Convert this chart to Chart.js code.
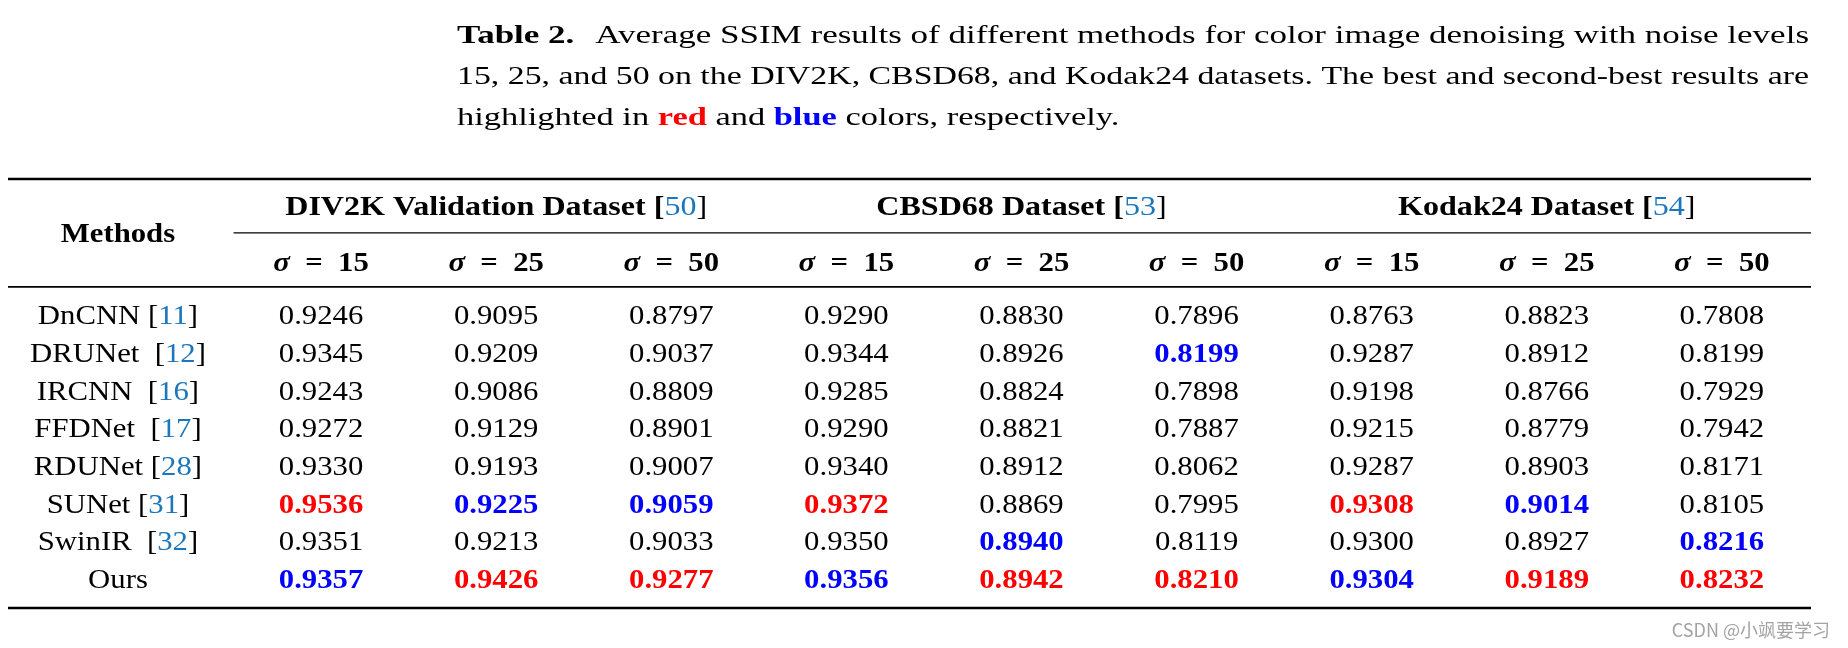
<!DOCTYPE html>
<html>
<head>
<meta charset="utf-8">
<title>Table 2 - SSIM</title>
<script src="https://cdn.jsdelivr.net/npm/chart.js@4.4.1/dist/chart.umd.min.js"></script>
<style>
    html, body { margin: 0; padding: 0; background: #ffffff; }
    canvas { display: block; }
</style>
</head>
<body>
<canvas id="ssim-table" width="1848" height="648"></canvas>
<script>
const methods = ['DnCNN', 'DRUNet ', 'IRCNN ', 'FFDNet ', 'RDUNet', 'SUNet', 'SwinIR ', 'Ours'];
const methodRefs = ['11', '12', '16', '17', '28', '31', '32', null];
const datasetNames = ['DIV2K Validation Dataset', 'CBSD68 Dataset', 'Kodak24 Dataset'];
const datasetRefs = ['50', '53', '54'];
const noiseLevels = [15, 25, 50];

// one row per method, columns = sigma 15 / 25 / 50
const div2kSSIM = [
    [0.9246, 0.9095, 0.8797],
    [0.9345, 0.9209, 0.9037],
    [0.9243, 0.9086, 0.8809],
    [0.9272, 0.9129, 0.8901],
    [0.9330, 0.9193, 0.9007],
    [0.9536, 0.9225, 0.9059],
    [0.9351, 0.9213, 0.9033],
    [0.9357, 0.9426, 0.9277]
];
const cbsd68SSIM = [
    [0.9290, 0.8830, 0.7896],
    [0.9344, 0.8926, 0.8199],
    [0.9285, 0.8824, 0.7898],
    [0.9290, 0.8821, 0.7887],
    [0.9340, 0.8912, 0.8062],
    [0.9372, 0.8869, 0.7995],
    [0.9350, 0.8940, 0.8119],
    [0.9356, 0.8942, 0.8210]
];
const kodak24SSIM = [
    [0.8763, 0.8823, 0.7808],
    [0.9287, 0.8912, 0.8199],
    [0.9198, 0.8766, 0.7929],
    [0.9215, 0.8779, 0.7942],
    [0.9287, 0.8903, 0.8171],
    [0.9308, 0.9014, 0.8105],
    [0.9300, 0.8927, 0.8216],
    [0.9304, 0.9189, 0.8232]
];

// ---- look ----
const SERIF = '"Liberation Serif", "DejaVu Serif", serif';
const FS = 26.5;               // table font size
const STRETCH = 1.16;          // the screenshot is a bit wide
const CITE = '#1b76bc';
const RED = '#ff0000';
const BLUE = '#0000ff';
const reg = (s) => `${s}px ${SERIF}`;
const bold = (s) => `bold ${s}px ${SERIF}`;

// y positions of header parts, in row units (row 0 = first method)
const ROW_TOP_RULE = -3.62;
const ROW_GROUP = -2.90;
const ROW_CMID = -2.19;
const ROW_SIGMA = -1.42;
const ROW_MID_RULE = -0.76;
const ROW_BOTTOM_RULE = 7.76;
const COL_METHODS = -1.16;

function drawRich(ctx, parts, x, y, align, sx) {
    let w = 0;
    parts.forEach(p => {
        ctx.font = p.f;
        p.w = ctx.measureText(p.t).width;
        w += p.w;
    });
    let x0 = x;
    if (align === 'center') x0 = x - w * sx / 2;
    else if (align === 'right') x0 = x - w * sx;
    ctx.save();
    ctx.translate(x0, y);
    ctx.scale(sx, 1);
    let cx = 0;
    parts.forEach(p => {
        ctx.font = p.f;
        ctx.fillStyle = p.c || '#000000';
        ctx.fillText(p.t, cx, 0);
        cx += p.w;
    });
    ctx.restore();
}

// caption line; when width is given the glyphs are widened to fill it
function drawCaptionLine(ctx, words, x, y, width, sxFixed) {
    let natural = 0;
    const spaceW = [];
    words.forEach(wd => {
        ctx.font = wd.f;
        wd.w = ctx.measureText(wd.t).width;
        natural += wd.w;
        spaceW.push(ctx.measureText(' ').width * (wd.gap || 1));
    });
    spaceW.pop();
    natural += spaceW.reduce((a, b) => a + b, 0);
    const sx = width ? width / natural : sxFixed;
    let cx = x;
    words.forEach((wd, i) => {
        ctx.save();
        ctx.translate(cx, y);
        ctx.scale(sx, 1);
        ctx.font = wd.f;
        ctx.fillStyle = wd.c || '#000000';
        ctx.fillText(wd.t, 0, 0);
        ctx.restore();
        cx += wd.w * sx;
        if (i < spaceW.length) cx += spaceW[i] * sx;
    });
    return sx;
}

function words(text, font, color) {
    return text.split(' ').map(t => ({ t: t, f: font, c: color }));
}

// best / second best per column
function rankColour(table, r, c) {
    const col = table.map(row => row[c]).slice().sort((a, b) => b - a);
    if (table[r][c] === col[0]) return RED;
    if (table[r][c] === col[1]) return BLUE;
    return null;
}

const tables = [div2kSSIM, cbsd68SSIM, kodak24SSIM];

// one scatter dataset per value column, plus one for the method names
const chartDatasets = [];
chartDatasets.push({
    label: 'Methods',
    data: methods.map((m, r) => ({ x: COL_METHODS, y: r })),
    cells: methods.map((m, r) => {
        const parts = [{ t: m + (methodRefs[r] ? ' [' : ''), f: reg(FS) }];
        if (methodRefs[r]) {
            parts.push({ t: methodRefs[r], f: reg(FS), c: CITE });
            parts.push({ t: ']', f: reg(FS) });
        }
        return parts;
    })
});
tables.forEach((table, d) => {
    noiseLevels.forEach((sigma, s) => {
        const col = d * noiseLevels.length + s;
        chartDatasets.push({
            label: datasetNames[d] + ' sigma=' + sigma,
            data: table.map((row, r) => ({ x: col, y: r })),
            cells: table.map((row, r) => {
                const colour = rankColour(table, r, s);
                return [{
                    t: row[s].toFixed(4),
                    f: colour ? bold(FS) : reg(FS),
                    c: colour || '#000000'
                }];
            })
        });
    });
});

const tablePlugin = {
    id: 'tableText',
    afterDatasetsDraw(chart) {
        const ctx = chart.ctx;
        const xs = chart.scales.x;
        const ys = chart.scales.y;
        const area = chart.chartArea;
        const capShift = FS * 0.33;

        // rules
        const rule = (row, lw, x1, x2) => {
            const y = ys.getPixelForValue(row);
            ctx.save();
            ctx.strokeStyle = '#000000';
            ctx.lineWidth = lw;
            ctx.beginPath();
            ctx.moveTo(x1, y);
            ctx.lineTo(x2, y);
            ctx.stroke();
            ctx.restore();
        };
        rule(ROW_TOP_RULE, 2.6, area.left, area.right);
        rule(ROW_CMID, 1.2, xs.getPixelForValue(-0.5), area.right);
        rule(ROW_MID_RULE, 1.8, area.left, area.right);
        rule(ROW_BOTTOM_RULE, 2.6, area.left, area.right);

        // header
        drawRich(ctx, [{ t: 'Methods', f: bold(FS) }],
            xs.getPixelForValue(COL_METHODS), ys.getPixelForValue(ROW_CMID) + capShift, 'center', STRETCH);
        datasetNames.forEach((name, d) => {
            const mid = d * noiseLevels.length + 1;
            drawRich(ctx, [
                { t: name + ' [', f: bold(FS) },
                { t: datasetRefs[d], f: reg(FS), c: CITE },
                { t: ']', f: reg(FS) }
            ], xs.getPixelForValue(mid), ys.getPixelForValue(ROW_GROUP) + capShift, 'center', 1.21);
            noiseLevels.forEach((sigma, s) => {
                const col = d * noiseLevels.length + s;
                drawRich(ctx, [
                    { t: '\u03c3', f: 'italic ' + bold(FS) },
                    { t: '\u2002=\u2002', f: bold(FS) },
                    { t: String(sigma), f: bold(FS) }
                ], xs.getPixelForValue(col), ys.getPixelForValue(ROW_SIGMA) + capShift, 'center', STRETCH);
            });
        });

        // body cells at the scatter point positions
        chart.data.datasets.forEach((ds, i) => {
            const meta = chart.getDatasetMeta(i);
            meta.data.forEach((pt, r) => {
                drawRich(ctx, ds.cells[r], pt.x, pt.y + capShift, 'center', STRETCH);
            });
        });

        // caption
        const capFont = 25.5;
        const capLeft = 457;
        const capWidth = 1352;
        const line1 = [{ t: 'Table 2.', f: bold(capFont), gap: 2.4 }]
            .concat(words('Average SSIM results of different methods for color image denoising with noise levels', reg(capFont)));
        const line2 = words('15, 25, and 50 on the DIV2K, CBSD68, and Kodak24 datasets. The best and second-best results are', reg(capFont));
        const line3 = words('highlighted in', reg(capFont))
            .concat([{ t: 'red', f: bold(capFont), c: RED }])
            .concat(words('and', reg(capFont)))
            .concat([{ t: 'blue', f: bold(capFont), c: BLUE }])
            .concat(words('colors, respectively.', reg(capFont)));
        const sx1 = drawCaptionLine(ctx, line1, capLeft, 43, capWidth);
        const sx2 = drawCaptionLine(ctx, line2, capLeft, 84, capWidth);
        drawCaptionLine(ctx, line3, capLeft, 125, 0, (sx1 + sx2) / 2);

        // watermark
        ctx.save();
        ctx.font = '18px "Noto Sans CJK SC", "Noto Sans", sans-serif';
        ctx.fillStyle = '#a3a3a3';
        ctx.textAlign = 'right';
        ctx.fillText('CSDN @小飒要学习', 1830, 637);
        ctx.restore();
    }
};

new Chart(document.getElementById('ssim-table'), {
    type: 'scatter',
    data: { datasets: chartDatasets },
    options: {
        responsive: false,
        animation: false,
        events: [],
        layout: { padding: { left: 8, right: 37, top: 179, bottom: 40 } },
        elements: { point: { radius: 0, hoverRadius: 0 } },
        plugins: {
            legend: { display: false },
            tooltip: { enabled: false },
            title: { display: false }
        },
        scales: {
            x: { type: 'linear', display: false, min: -1.788, max: 8.509 },
            y: { type: 'linear', display: false, reverse: true, min: ROW_TOP_RULE, max: ROW_BOTTOM_RULE }
        }
    },
    plugins: [tablePlugin]
});
</script>
</body>
</html>
